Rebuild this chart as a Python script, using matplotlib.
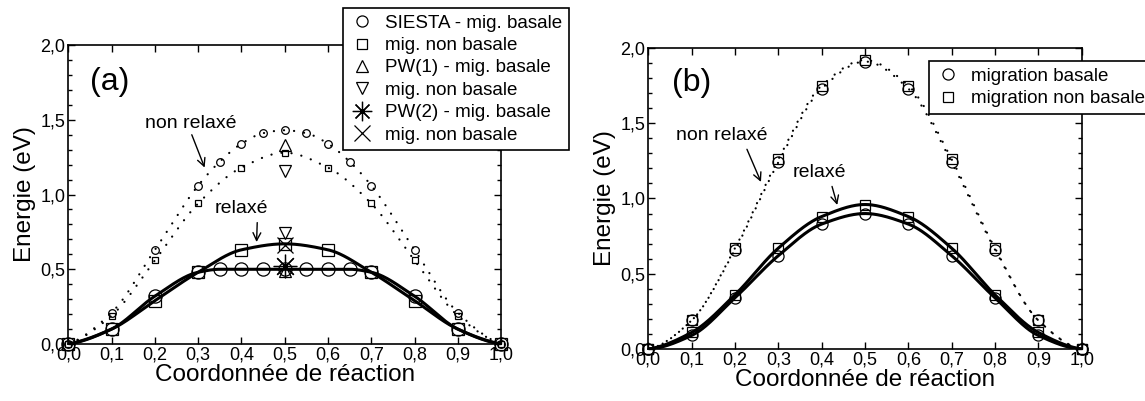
import numpy as np
import matplotlib
matplotlib.use("Agg")
import matplotlib.pyplot as plt
from matplotlib.lines import Line2D
from matplotlib.ticker import MultipleLocator, FuncFormatter

plt.rcParams['font.family'] = ['Liberation Sans', 'DejaVu Sans']

# ---- panel (a) data ----
xa_half = [0.0, 0.1, 0.2, 0.3, 0.35, 0.4, 0.45, 0.5, 0.55, 0.6, 0.65, 0.7, 0.8, 0.9, 1.0]
xa = [0.0, 0.1, 0.2, 0.3, 0.4, 0.5, 0.6, 0.7, 0.8, 0.9, 1.0]
# non relaxe
a_nr_basal = [0.0, 0.21, 0.63, 1.06, 1.22, 1.34, 1.41, 1.43, 1.41, 1.34, 1.22, 1.06, 0.63, 0.21, 0.0]
a_nr_nonbasal = [0.0, 0.19, 0.56, 0.94, 1.18, 1.28, 1.18, 0.94, 0.56, 0.19, 0.0]
# relaxe
a_r_basal = [0.0, 0.10, 0.32, 0.48, 0.50, 0.50, 0.50, 0.50, 0.50, 0.50, 0.50, 0.48, 0.32, 0.10, 0.0]
a_r_nonbasal = [0.0, 0.10, 0.29, 0.48, 0.63, 0.67, 0.63, 0.48, 0.29, 0.10, 0.0]
# PW points at the saddle (x=0.5)
pw1_basal = [0.49, 1.33]      # relaxe, non relaxe
pw1_nonbasal = [0.74, 1.16]
pw2_basal = [0.52]
pw2_nonbasal = [0.66]

# ---- panel (b) data ----
xb = [0.0, 0.1, 0.2, 0.3, 0.4, 0.5, 0.6, 0.7, 0.8, 0.9, 1.0]
b_nr_basal = [0.0, 0.19, 0.66, 1.24, 1.73, 1.91, 1.73, 1.24, 0.66, 0.19, 0.0]
b_nr_nonbasal = [0.0, 0.19, 0.67, 1.26, 1.75, 1.92, 1.75, 1.26, 0.67, 0.19, 0.0]
b_r_basal = [0.0, 0.09, 0.34, 0.62, 0.83, 0.90, 0.83, 0.62, 0.34, 0.09, 0.0]
b_r_nonbasal = [0.0, 0.11, 0.36, 0.67, 0.88, 0.96, 0.88, 0.67, 0.36, 0.11, 0.0]


def pchip(x, y, xs):
    # monotone cubic through the points, only for drawing the smooth line
    x = np.asarray(x, float)
    y = np.asarray(y, float)
    h = np.diff(x)
    d = np.diff(y) / h
    n = len(x)
    m = np.zeros(n)
    for k in range(1, n - 1):
        if d[k - 1] * d[k] > 0:
            w1 = 2 * h[k] + h[k - 1]
            w2 = h[k] + 2 * h[k - 1]
            m[k] = (w1 + w2) / (w1 / d[k - 1] + w2 / d[k])

    def end(h0, h1, d0, d1):
        v = ((2 * h0 + h1) * d0 - h0 * d1) / (h0 + h1)
        if np.sign(v) != np.sign(d0):
            v = 0.0
        return v
    m[0] = end(h[0], h[1], d[0], d[1])
    m[-1] = end(h[-1], h[-2], d[-1], d[-2])
    i = np.clip(np.searchsorted(x, xs) - 1, 0, n - 2)
    t = (xs - x[i]) / h[i]
    return ((2 * t**3 - 3 * t**2 + 1) * y[i] + (t**3 - 2 * t**2 + t) * h[i] * m[i]
            + (-2 * t**3 + 3 * t**2) * y[i + 1] + (t**3 - t**2) * h[i] * m[i + 1])


xs = np.linspace(0, 1, 400)
comma = FuncFormatter(lambda v, p: f"{v:.1f}".replace('.', ','))
dots = (0, (0.05, 4.5))
dots2 = (2.2, (0.05, 4.5))
mk = dict(linestyle='none', markerfacecolor='none', markeredgecolor='black',
          markeredgewidth=0.9, clip_on=False)
lk = dict(color='black', lw=1.6, dash_capstyle='round')

fig = plt.figure(figsize=(11.45, 4.01), dpi=100)
ax1 = fig.add_axes([0.0597, 0.1421, 0.3779, 0.7457])
ax2 = fig.add_axes([0.5662, 0.1297, 0.3785, 0.7506])

for ax in (ax1, ax2):
    ax.set_xlim(0, 1)
    ax.set_ylim(0, 2)
    ax.xaxis.set_major_locator(MultipleLocator(0.1))
    ax.yaxis.set_major_locator(MultipleLocator(0.5))
    ax.yaxis.set_minor_locator(MultipleLocator(0.1))
    ax.xaxis.set_major_formatter(comma)
    ax.yaxis.set_major_formatter(comma)
    ax.tick_params(which='both', direction='in', top=True, right=True, width=1.0, labelsize=13)
    ax.tick_params(which='major', length=5, pad=2)
    ax.tick_params(which='minor', length=3)
    for s in ax.spines.values():
        s.set_linewidth(1.2)
    ax.set_xlabel('Coordonnée de réaction', fontsize=17.5, labelpad=0)
    ax.set_ylabel('Energie (eV)', fontsize=17.5, labelpad=3)

# ---- (a) ----
ax1.plot(xs, pchip(xa_half, a_nr_basal, xs), linestyle=dots, **lk)
ax1.plot(xs, pchip(xa, a_nr_nonbasal, xs), linestyle=dots, **lk)
ax1.plot(xs, pchip(xa_half, a_r_basal, xs), color='black', lw=2.2)
ax1.plot(xs, pchip(xa, a_r_nonbasal, xs), color='black', lw=2.2)

ax1.plot(xa_half, a_nr_basal, marker='o', markersize=5.5, **mk)
ax1.plot(xa, a_nr_nonbasal, marker='s', markersize=5, **mk)
ax1.plot(xa_half, a_r_basal, marker='o', markersize=9.5, **mk)
ax1.plot(xa, a_r_nonbasal, marker='s', markersize=8, **mk)
ax1.plot([0.5, 0.5], pw1_basal, marker='^', markersize=9, **mk)
ax1.plot([0.5, 0.5], pw1_nonbasal, marker='v', markersize=9, **mk)
ax1.plot([0.5], pw2_basal, marker=(8, 2, 0), markersize=17, **mk)
ax1.plot([0.5], pw2_nonbasal, marker='x', markersize=11, **mk)

ax1.text(0.05, 1.75, '(a)', fontsize=23, va='center', ha='left')
ax1.annotate('non relaxé', xy=(0.315, 1.18), xytext=(0.177, 1.445), fontsize=14,
             ha='left', va='baseline',
             arrowprops=dict(arrowstyle='->', lw=1, color='black', shrinkA=0, shrinkB=0,
                             relpos=(0.5, 0)))
ax1.annotate('relaxé', xy=(0.435, 0.682), xytext=(0.338, 0.876), fontsize=14,
             ha='left', va='baseline',
             arrowprops=dict(arrowstyle='->', lw=1, color='black', shrinkA=2, shrinkB=0,
                             relpos=(0.8, 0)))

leg_a = [
    Line2D([], [], marker='o', markersize=8, **mk),
    Line2D([], [], marker='s', markersize=7, **mk),
    Line2D([], [], marker='^', markersize=8, **mk),
    Line2D([], [], marker='v', markersize=8, **mk),
    Line2D([], [], marker=(8, 2, 0), markersize=14, **mk),
    Line2D([], [], marker='x', markersize=12, **mk),
]
lab_a = ['SIESTA - mig. basale', 'mig. non basale', 'PW(1) - mig. basale',
         'mig. non basale', 'PW(2) - mig. basale', 'mig. non basale']
la = fig.legend(leg_a, lab_a, loc='upper left', bbox_to_anchor=(343 / 1145, 1 - 8 / 401),
                fontsize=13.5, frameon=True, fancybox=False, framealpha=1, edgecolor='black',
                handlelength=1.3, handletextpad=0.6, labelspacing=0.28, borderpad=0.35,
                borderaxespad=0)
la.get_frame().set_linewidth(1.2)

# ---- (b) ----
ax2.plot(xs, pchip(xb, b_nr_basal, xs), linestyle=dots, **lk)
ax2.plot(xs, pchip(xb, b_nr_nonbasal, xs), linestyle=dots2, **lk)
ax2.plot(xs, pchip(xb, b_r_basal, xs), color='black', lw=2.2)
ax2.plot(xs, pchip(xb, b_r_nonbasal, xs), color='black', lw=2.2)

ax2.plot(xb, b_nr_basal, marker='o', markersize=8, **mk)
ax2.plot(xb, b_nr_nonbasal, marker='s', markersize=7, **mk)
ax2.plot(xb, b_r_basal, marker='o', markersize=8, **mk)
ax2.plot(xb, b_r_nonbasal, marker='s', markersize=7, **mk)

ax2.text(0.055, 1.77, '(b)', fontsize=23, va='center', ha='left')
ax2.annotate('non relaxé', xy=(0.26, 1.11), xytext=(0.064, 1.389), fontsize=14,
             ha='left', va='baseline',
             arrowprops=dict(arrowstyle='->', lw=1, color='black', shrinkA=2, shrinkB=0,
                             relpos=(0.75, 0)))
ax2.annotate('relaxé', xy=(0.436, 0.957), xytext=(0.334, 1.143), fontsize=14,
             ha='left', va='baseline',
             arrowprops=dict(arrowstyle='->', lw=1, color='black', shrinkA=2, shrinkB=0,
                             relpos=(0.7, 0)))

leg_b = [Line2D([], [], marker='o', markersize=8, **mk),
         Line2D([], [], marker='s', markersize=7, **mk)]
lb = fig.legend(leg_b, ['migration basale', 'migration non basale'], loc='upper left',
                bbox_to_anchor=(929 / 1145, 1 - 61 / 401), fontsize=13.5, frameon=True,
                fancybox=False, framealpha=1, edgecolor='black', handlelength=1.3,
                handletextpad=0.6, labelspacing=0.3, borderpad=0.35, borderaxespad=0)
lb.get_frame().set_linewidth(1.2)

fig.savefig('out.png', dpi=100)
